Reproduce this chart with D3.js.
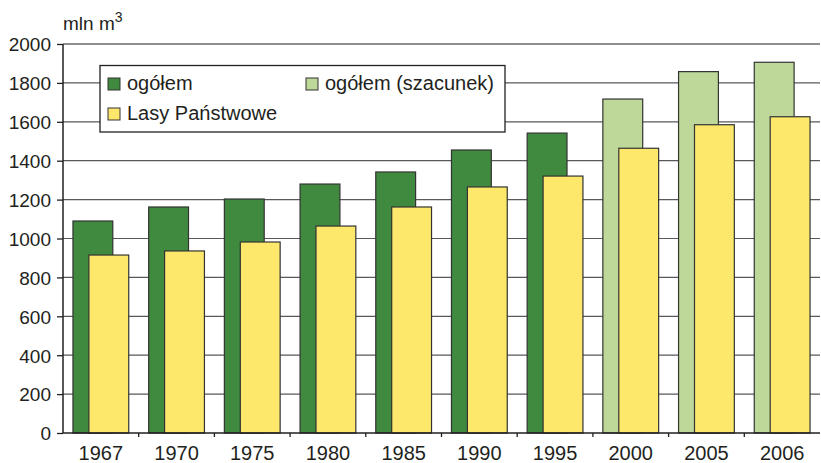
<!DOCTYPE html>
<html>
<head>
<meta charset="utf-8">
<script src="https://cdn.jsdelivr.net/npm/d3@7"></script>
<style>
  body { margin: 0; background: #fff; }
  text { font-family: "Liberation Sans", Arial, sans-serif; fill: #231f20; }
</style>
</head>
<body>
<div id="chart"></div>
<script>
// chart data
var years = ["1967", "1970", "1975", "1980", "1985", "1990", "1995", "2000", "2005", "2006"];
var totalValues = [1090, 1162, 1203, 1280, 1342, 1455, 1542, 1717, 1858, 1906];
var stateForestValues = [915, 936, 982, 1064, 1162, 1265, 1321, 1464, 1585, 1626];
var estimated = [false, false, false, false, false, false, false, true, true, true];
var yTicks = [0, 200, 400, 600, 800, 1000, 1200, 1400, 1600, 1800, 2000];

var svgWidth = 821;
var svgHeight = 463;

var margin = { top: 44, right: 1, bottom: 30, left: 63 };
var width = svgWidth - margin.left - margin.right;
var height = svgHeight - margin.top - margin.bottom;

var colors = { total: "#3f8a3f", estimate: "#bed899", lp: "#fde86c" };

var svg = d3.select("#chart")
    .append("svg")
    .attr("width", svgWidth)
    .attr("height", svgHeight);

var chartGroup = svg.append("g")
    .attr("transform", `translate(${margin.left}, ${margin.top})`);

var xScale = d3.scaleBand()
    .domain(years)
    .range([0, width]);

var yScale = d3.scaleLinear()
    .domain([0, 2000])
    .range([height, 0]);

// gridlines
chartGroup.append("g")
    .selectAll("line")
    .data(yTicks.filter(d => d > 0))
    .enter()
    .append("line")
    .attr("x1", 0)
    .attr("x2", width)
    .attr("y1", d => yScale(d))
    .attr("y2", d => yScale(d))
    .attr("stroke", d => d === 2000 ? "#231f20" : "#58595b")
    .attr("stroke-width", 1.2);

var bw = xScale.bandwidth();
var barW = bw * 40 / 76;

// ogółem bars
chartGroup.append("g")
    .selectAll("rect")
    .data(years)
    .enter()
    .append("rect")
    .attr("x", (d, i) => xScale(d) + bw * 10 / 76)
    .attr("y", (d, i) => yScale(totalValues[i]))
    .attr("width", barW)
    .attr("height", (d, i) => height - yScale(totalValues[i]))
    .attr("fill", (d, i) => estimated[i] ? colors.estimate : colors.total)
    .attr("stroke", "#333")
    .attr("stroke-width", 1.2);

// Lasy Państwowe bars
chartGroup.append("g")
    .selectAll("rect")
    .data(years)
    .enter()
    .append("rect")
    .attr("x", (d, i) => xScale(d) + bw * 26 / 76)
    .attr("y", (d, i) => yScale(stateForestValues[i]))
    .attr("width", barW)
    .attr("height", (d, i) => height - yScale(stateForestValues[i]))
    .attr("fill", colors.lp)
    .attr("stroke", "#333")
    .attr("stroke-width", 1.2);

// y axis
var leftAxis = d3.axisLeft(yScale)
    .tickValues(yTicks)
    .tickFormat(d3.format("d"))
    .tickSize(6)
    .tickPadding(6);

var yAxis = chartGroup.append("g").call(leftAxis);
yAxis.select(".domain").remove();
yAxis.selectAll("line").attr("stroke", "#231f20").attr("stroke-width", 1.3);
yAxis.selectAll("text")
    .attr("font-size", "19px")
    .attr("fill", "#231f20")
    .attr("dy", "0.36em")
    .style("font-family", "Liberation Sans, Arial, sans-serif");

chartGroup.append("line")
    .attr("x1", 0).attr("x2", 0)
    .attr("y1", 0).attr("y2", height)
    .attr("stroke", "#231f20")
    .attr("stroke-width", 1.5);

// x axis
chartGroup.append("line")
    .attr("x1", 0).attr("x2", width)
    .attr("y1", height).attr("y2", height)
    .attr("stroke", "#231f20")
    .attr("stroke-width", 1.5);

chartGroup.append("g")
    .selectAll("line")
    .data(years.slice(1))
    .enter()
    .append("line")
    .attr("x1", d => xScale(d))
    .attr("x2", d => xScale(d))
    .attr("y1", height)
    .attr("y2", height + 4)
    .attr("stroke", "#231f20")
    .attr("stroke-width", 1.3);

chartGroup.append("g")
    .selectAll("text")
    .data(years)
    .enter()
    .append("text")
    .attr("x", d => xScale(d) + bw / 2)
    .attr("y", height + 27)
    .attr("text-anchor", "middle")
    .attr("font-size", "20px")
    .text(d => d);

// unit label
var unit = svg.append("text")
    .attr("x", 63)
    .attr("y", 30)
    .attr("font-size", "19px");
unit.append("tspan").text("mln m");
unit.append("tspan").attr("dy", -8).attr("font-size", "14px").text("3");

// legend
var legend = svg.append("g");
legend.append("rect")
    .attr("x", 100).attr("y", 65.5)
    .attr("width", 405).attr("height", 66.5)
    .attr("fill", "#fff")
    .attr("stroke", "#231f20")
    .attr("stroke-width", 1.3);

var legendItems = [
    { label: "ogółem", color: colors.total, x: 108, y: 78 },
    { label: "Lasy Państwowe", color: colors.lp, x: 108, y: 108 },
    { label: "ogółem (szacunek)", color: colors.estimate, x: 306, y: 78 }
];

legendItems.forEach(item => {
    legend.append("rect")
        .attr("x", item.x).attr("y", item.y)
        .attr("width", 12).attr("height", 12)
        .attr("fill", item.color)
        .attr("stroke", "#333")
        .attr("stroke-width", 1);
    legend.append("text")
        .attr("x", item.x + 19)
        .attr("y", item.y + 12)
        .attr("font-size", "20px")
        .text(item.label);
});
</script>
</body>
</html>
